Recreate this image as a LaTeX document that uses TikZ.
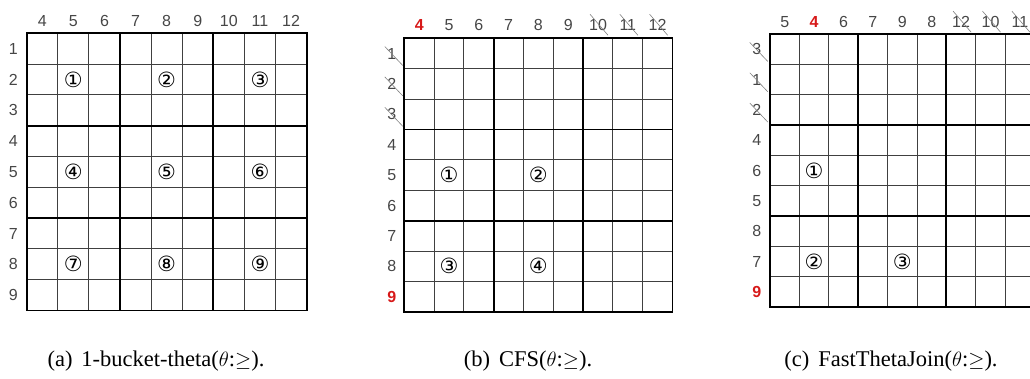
\documentclass[tikz,border=0pt]{standalone}
\usepackage{fontspec}
\setmainfont{Liberation Serif}
\newfontfamily\labelfont{Liberation Sans}
\newfontfamily\circfont{DejaVu Sans}
\usetikzlibrary{calc}
\definecolor{labelgray}{RGB}{70,70,70}
\definecolor{pickred}{RGB}{215,25,25}

\tikzset{
  lab/.style={font=\labelfont\fontsize{16}{16}\selectfont, text=labelgray, inner sep=0pt},
  hl/.style={lab, font=\labelfont\bfseries\fontsize{16}{16}\selectfont, text=pickred},
  strike/.style={draw=gray, line width=0.6pt},
  cellline/.style={line width=0.9pt, draw=black!75},
  blockline/.style={line width=1.9pt, draw=black, line cap=rect},
  bucket/.style={font=\circfont\fontsize{21}{21}\selectfont, inner sep=0pt},
  caption/.style={font=\fontsize{22.5}{22.5}\selectfont, inner sep=0pt}
}

% 9x9 grid, thick lines every third cell
\newcommand{\cellgrid}{%
  \foreach \k in {0,...,9} {
    \draw[cellline] (\k,0) -- (\k,9);
    \draw[cellline] (0,\k) -- (9,\k);
  }
  \foreach \k in {0,3,6,9} {
    \draw[blockline] (\k,0) -- (\k,9);
    \draw[blockline] (0,\k) -- (9,\k);
  }
}

\begin{document}
\begin{tikzpicture}[x=1pt,y=-1pt]
  \useasboundingbox (0,0) rectangle (1030,379);
  \clip (0,0) rectangle (1030,379);

  % (a) 1-bucket-theta
  \begin{scope}[shift={(26.7,33.3)}, x=31.1pt, y=-30.8pt]
    \cellgrid
    \foreach \lab [count=\i] in {4,5,6,7,8,9,10,11,12}
      \node[lab] (a-c\i) at (\i-0.5,-0.41) {\lab};
    \foreach \lab [count=\i] in {1,...,9}
      \node[lab] (a-r\i) at (-0.43,\i-0.5) {\lab};
    \foreach \n/\cx/\cy [count=\i] in {①/1/1,②/4/1,③/7/1,④/1/4,⑤/4/4,⑥/7/4,⑦/1/7,⑧/4/7,⑨/7/7}
      \node[bucket] (a-b\i) at (\cx+0.5,\cy+0.5) {\n};
  \end{scope}

  % (b) CFS
  \begin{scope}[shift={(404.3,38.3)}, x=29.8pt, y=-30.4pt]
    \cellgrid
    \foreach \lab/\sty [count=\i] in {4/hl,5/lab,6/lab,7/lab,8/lab,9/lab,10/lab,11/lab,12/lab}
      \node[\sty] (b-c\i) at (\i-0.5,-0.43) {\lab};
    \foreach \lab/\sty [count=\i] in {1/lab,2/lab,3/lab,4/lab,5/lab,6/lab,7/lab,8/lab,9/hl}
      \node[\sty] (b-r\i) at (-0.42,\i-0.5) {\lab};
    \foreach \n/\cx/\cy [count=\i] in {①/1/4,②/4/4,③/1/7,④/4/7}
      \node[bucket] (b-b\i) at (\cx+0.5,\cy+0.5) {\n};
  \end{scope}

  % (c) FastThetaJoin
  \begin{scope}[shift={(770,34.3)}, x=29.4pt, y=-30.3pt]
    \cellgrid
    \foreach \lab/\sty [count=\i] in {5/lab,4/hl,6/lab,7/lab,9/lab,8/lab,12/lab,10/lab,11/lab}
      \node[\sty] (c-c\i) at (\i-0.5,-0.40) {\lab};
    \foreach \lab/\sty [count=\i] in {3/lab,1/lab,2/lab,4/lab,6/lab,5/lab,8/lab,7/lab,9/hl}
      \node[\sty] (c-r\i) at (-0.45,\i-0.5) {\lab};
    \foreach \n/\cx/\cy [count=\i] in {①/1/4,②/1/7,③/4/7}
      \node[bucket] (c-b\i) at (\cx+0.5,\cy+0.5) {\n};
  \end{scope}

  % pruned labels
  \foreach \n in {b-c7,b-c8,b-c9,c-c7,c-c8,c-c9}
    \draw[strike] ($(\n)+(-8pt,11pt)$) -- ($(\n)+(10pt,-10pt)$);
  \foreach \n in {b-r1,b-r2,b-r3,c-r1,c-r2,c-r3}
    \draw[strike] ($(\n)+(-7pt,7pt)$) -- ($(\n)+(11pt,-12pt)$);

  % captions
  \node[caption] (cap-a) at (156,361) {(a)\hspace{0.4em}1-bucket-theta($\theta$:$\geq$).};
  \node[caption] (cap-b) at (528,361) {(b)\hspace{0.4em}CFS($\theta$:$\geq$).};
  \node[caption] (cap-c) at (891,361) {(c)\hspace{0.4em}FastThetaJoin($\theta$:$\geq$).};
\end{tikzpicture}
\end{document}
